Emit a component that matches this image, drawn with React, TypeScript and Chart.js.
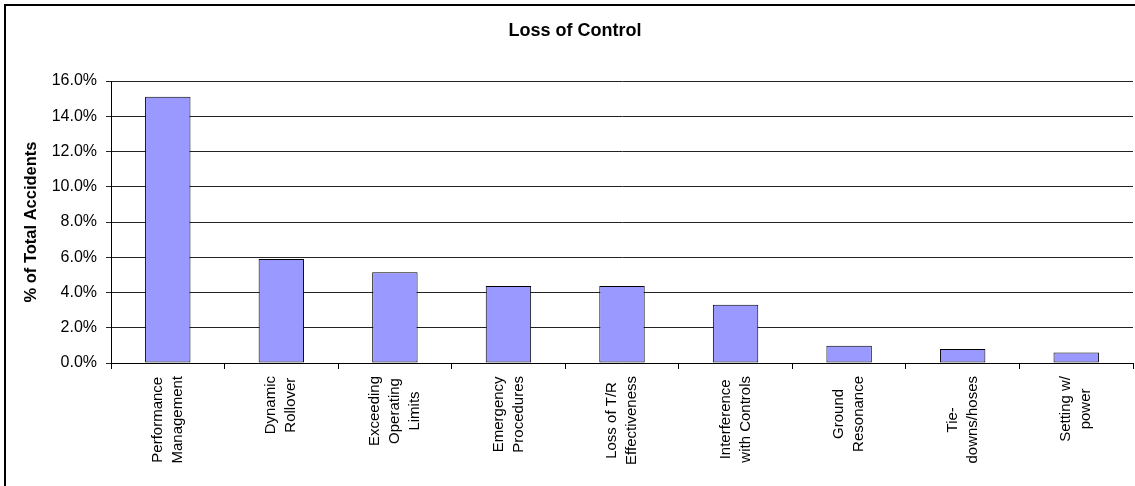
import React, { useEffect, useRef } from "react";
import { Chart, registerables } from "chart.js";

Chart.register(...registerables);

const chartTitle = "Loss of Control";
const yAxisTitle = "% of Total Accidents";

const categories: string[][] = [
  ["Performance", "Management"],
  ["Dynamic", "Rollover"],
  ["Exceeding", "Operating", "Limits"],
  ["Emergency", "Procedures"],
  ["Loss of T/R", "Effectiveness"],
  ["Interference", "with Controls"],
  ["Ground", "Resonance"],
  ["Tie-", "downs/hoses"],
  ["Setting w/", "power"],
];

const values: number[] = [15.1, 5.9, 5.15, 4.37, 4.37, 3.3, 0.98, 0.79, 0.6];

const yMin = 0;
const yMax = 16;
const yStep = 2;

const FONT = '"Liberation Sans", Arial, Helvetica, sans-serif';
const X_FONT_SIZE = 15;
const X_LINE_HEIGHT = 20;

const CANVAS_W = 1150;
const CANVAS_H = 500;

const xLabelPlugin = {
  id: "xLabelsCentered",
  afterDraw(chart: any) {
    const xs = chart.scales.x;
    const ctx = chart.ctx as CanvasRenderingContext2D;
    ctx.save();
    ctx.font = `${X_FONT_SIZE}px ${FONT}`;
    ctx.fillStyle = "#000";
    ctx.textAlign = "center";
    ctx.textBaseline = "middle";
    categories.forEach((lines, i) => {
      const x = xs.getPixelForValue(i);
      const w = Math.max(...lines.map((l) => ctx.measureText(l).width));
      const cy = xs.top + 13 + w / 2;
      ctx.save();
      ctx.translate(x, cy);
      ctx.rotate(-Math.PI / 2);
      lines.forEach((l, j) => {
        ctx.fillText(l, 0, (j - (lines.length - 1) / 2) * X_LINE_HEIGHT);
      });
      ctx.restore();
    });
    ctx.restore();
  },
};

export default function App() {
  const canvasRef = useRef<HTMLCanvasElement | null>(null);

  useEffect(() => {
    if (!canvasRef.current) return;
    const chart = new Chart(canvasRef.current, {
      type: "bar",
      data: {
        labels: categories,
        datasets: [
          {
            data: values,
            backgroundColor: "#9999FF",
            borderColor: "#000000",
            borderWidth: 1,
            borderSkipped: false,
            barPercentage: 0.4,
            categoryPercentage: 1,
          },
        ],
      },
      options: {
        responsive: false,
        animation: false,
        devicePixelRatio: 1,
        layout: {
          padding: { left: 17, right: CANVAS_W - 1133, top: 0, bottom: 0 },
        },
        plugins: {
          legend: { display: false },
          tooltip: { enabled: false },
          title: {
            display: true,
            text: chartTitle,
            color: "#000",
            font: { family: FONT, size: 18, weight: "bold" },
            padding: { top: 20, bottom: 39.4 },
          },
        },
        scales: {
          x: {
            type: "category",
            offset: true,
            afterFit: (s: any) => {
              s.height = CANVAS_H - 363;
            },
            grid: {
              display: true,
              offset: true,
              drawOnChartArea: false,
              drawTicks: true,
              tickLength: 6,
              color: "#000",
            },
            border: { display: true, color: "#000", width: 1 },
            ticks: { display: false },
          },
          y: {
            min: yMin,
            max: yMax,
            afterFit: (s: any) => {
              s.width = 111 - 17;
            },
            ticks: {
              stepSize: yStep,
              color: "#000",
              padding: 9,
              font: { family: FONT, size: 16 },
              callback: (v: any) => Number(v).toFixed(1) + "%",
            },
            grid: {
              color: "#222",
              lineWidth: 1,
              drawTicks: true,
              tickLength: 5,
            },
            border: { display: true, color: "#000", width: 1 },
            title: {
              display: true,
              text: yAxisTitle,
              color: "#000",
              font: { family: FONT, size: 16.5, weight: "bold" },
              padding: { top: 4.5, bottom: 0 },
            },
          },
        },
      },
      plugins: [xLabelPlugin],
    });
    return () => chart.destroy();
  }, []);

  return (
    <div
      style={{
        position: "fixed",
        left: 0,
        top: 0,
        width: 1135,
        height: 486,
        overflow: "hidden",
        background: "#fff",
      }}
    >
      <canvas
        ref={canvasRef}
        width={CANVAS_W}
        height={CANVAS_H}
        style={{ position: "absolute", left: 0, top: 0, width: CANVAS_W, height: CANVAS_H }}
      />
      <div
        style={{
          position: "absolute",
          left: 4,
          top: 4,
          width: 1200,
          height: 600,
          border: "2px solid #000",
          pointerEvents: "none",
        }}
      />
    </div>
  );
}
